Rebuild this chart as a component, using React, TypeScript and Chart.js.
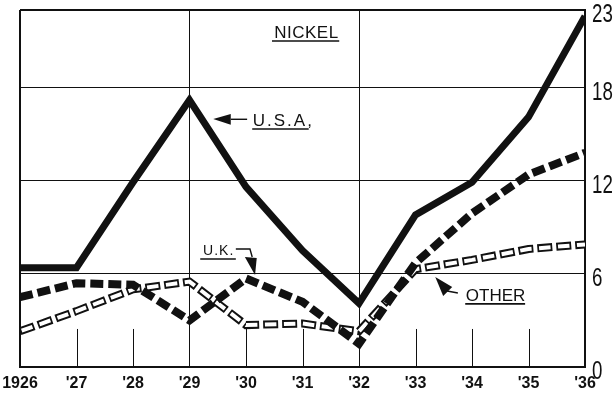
import React, { useEffect, useRef } from "react";
import { Chart, registerables } from "chart.js";

Chart.register(...registerables);

// ---- Data ----
const years = [1926, 1927, 1928, 1929, 1930, 1931, 1932, 1933, 1934, 1935, 1936];
const usaValues = [6.4, 6.4, 11.9, 17.2, 11.6, 7.5, 4.1, 9.8, 11.9, 16.1, 22.6];
const ukValues = [4.5, 5.4, 5.3, 3.0, 5.7, 4.2, 1.5, 6.7, 9.9, 12.4, 13.8];
const otherValues = [2.3, 3.6, 5.0, 5.5, 2.7, 2.8, 2.3, 6.3, 6.9, 7.6, 7.9];
const yTickValues = [0, 6, 12, 18, 23];
const xGridYears = [1926, 1929, 1932, 1936];
const yGridValues = [6, 12, 18, 23];
const yearTickTop = 2.45; // short inner year ticks rise to this value

const yearLabel = (y: number) => (y === 1926 ? "1926" : "'" + String(y).slice(2));

const INK = "#111111";
const LABEL_FONT = "'Liberation Sans', 'DejaVu Sans', Arial, sans-serif";

// Annotation labels in data coordinates
const textLabels = [
  { text: "NICKEL", x: 1930.5, y: 21.22, size: 17, spacing: "0.5px", ux0: 1930.46, ux1: 1931.65, uy: 21.0 },
  { text: "U.S.A,", x: 1930.12, y: 15.53, size: 17, spacing: "2px", ux0: 1930.11, ux1: 1931.11, uy: 15.33 },
  { text: "U.K.", x: 1929.24, y: 7.22, size: 14, spacing: "1px", ux0: 1929.19, ux1: 1929.82, uy: 6.96 },
  { text: "OTHER", x: 1933.89, y: 4.27, size: 17, spacing: "0px", ux0: 1933.88, ux1: 1934.94, uy: 4.07 },
];

const arrows = [
  {
    leader: [[1930.02, 15.96], [1929.73, 15.96]],
    head: [[1929.42, 15.98], [1929.73, 16.3], [1929.73, 15.6]],
  },
  {
    leader: [[1929.82, 7.6], [1930.07, 7.6], [1930.11, 7.09]],
    head: [[1929.98, 7.09], [1930.19, 7.02], [1930.16, 5.93]],
  },
  {
    leader: [[1933.75, 4.77], [1933.56, 4.9]],
    head: [[1933.35, 5.8], [1933.65, 5.15], [1933.49, 4.57]],
  },
];

const toPoints = (vals: number[]) => years.map((x, i) => ({ x, y: vals[i] }));

const yearTicksPlugin = {
  id: "yearTicks",
  beforeDatasetsDraw(chart: any) {
    const { ctx } = chart;
    const xs = chart.scales.x;
    const ys = chart.scales.y;
    ctx.save();
    ctx.strokeStyle = INK;
    ctx.lineWidth = 1;
    years.forEach((yr) => {
      if (xGridYears.includes(yr)) return;
      const px = Math.round(xs.getPixelForValue(yr)) + 0.5;
      ctx.beginPath();
      ctx.moveTo(px, ys.getPixelForValue(0));
      ctx.lineTo(px, ys.getPixelForValue(yearTickTop));
      ctx.stroke();
    });
    ctx.restore();
  },
};

// Condensed right-hand value labels, drawn from the y scale's own ticks
const condensedYLabels = {
  id: "condensedYLabels",
  afterDraw(chart: any) {
    const { ctx } = chart;
    const ys = chart.scales.y;
    ctx.save();
    ctx.fillStyle = INK;
    ctx.font = `26px ${LABEL_FONT}`;
    ctx.textAlign = "left";
    ctx.textBaseline = "middle";
    ys.ticks.forEach((t: any) => {
      const py = ys.getPixelForValue(t.value) + 5;
      ctx.save();
      ctx.translate(ys.left + 7, py);
      ctx.scale(0.72, 1);
      ctx.fillText(String(t.value), 0, 0);
      ctx.restore();
    });
    ctx.restore();
  },
};

const annotationPlugin = {
  id: "annotations",
  afterDatasetsDraw(chart: any) {
    const { ctx } = chart;
    const xs = chart.scales.x;
    const ys = chart.scales.y;
    const X = (v: number) => xs.getPixelForValue(v);
    const Y = (v: number) => ys.getPixelForValue(v);
    ctx.save();
    ctx.fillStyle = INK;
    ctx.strokeStyle = INK;
    ctx.textAlign = "left";
    ctx.textBaseline = "alphabetic";
    textLabels.forEach((l) => {
      ctx.font = `${l.size}px ${LABEL_FONT}`;
      (ctx as any).letterSpacing = l.spacing;
      ctx.fillText(l.text, X(l.x), Y(l.y));
      (ctx as any).letterSpacing = "0px";
      ctx.lineWidth = 1.6;
      ctx.beginPath();
      ctx.moveTo(X(l.ux0), Y(l.uy));
      ctx.lineTo(X(l.ux1), Y(l.uy));
      ctx.stroke();
    });
    arrows.forEach((a) => {
      ctx.lineWidth = 1.4;
      ctx.beginPath();
      a.leader.forEach(([x, y], i) => (i === 0 ? ctx.moveTo(X(x), Y(y)) : ctx.lineTo(X(x), Y(y))));
      ctx.stroke();
      ctx.beginPath();
      a.head.forEach(([x, y], i) => (i === 0 ? ctx.moveTo(X(x), Y(y)) : ctx.lineTo(X(x), Y(y))));
      ctx.closePath();
      ctx.fill();
    });
    ctx.restore();
  },
};

export default function App() {
  const canvasRef = useRef<HTMLCanvasElement | null>(null);

  useEffect(() => {
    if (!canvasRef.current) return;
    const chart = new Chart(canvasRef.current, {
      type: "line",
      data: {
        datasets: [
          {
            label: "U.S.A.",
            data: toPoints(usaValues),
            borderColor: INK,
            borderWidth: 7,
            pointRadius: 0,
            tension: 0,
            order: 0,
          },
          {
            label: "U.K.",
            data: toPoints(ukValues),
            borderColor: INK,
            borderWidth: 8,
            borderDash: [13, 5],
            pointRadius: 0,
            tension: 0,
            order: 1,
          },
          {
            label: "Other (fill)",
            data: toPoints(otherValues),
            borderColor: "#ffffff",
            borderWidth: 4,
            borderDash: [11.5, 7.5],
            borderDashOffset: -1.75,
            pointRadius: 0,
            tension: 0,
            order: 2,
          },
          {
            label: "Other",
            data: toPoints(otherValues),
            borderColor: INK,
            borderWidth: 8,
            borderDash: [15, 4],
            pointRadius: 0,
            tension: 0,
            order: 3,
          },
        ],
      },
      options: {
        animation: false,
        responsive: false,
        maintainAspectRatio: false,
        layout: { padding: { left: 20, top: 10, right: 0, bottom: 0 } },
        plugins: {
          legend: { display: false },
          tooltip: { enabled: false },
        },
        scales: {
          x: {
            type: "linear",
            min: 1926,
            max: 1936,
            afterFit: (s: any) => {
              s.height = 27;
              s.paddingLeft = 0;
              s.paddingRight = 0;
            },
            ticks: {
              stepSize: 1,
              autoSkip: false,
              maxRotation: 0,
              padding: 7,
              color: INK,
              font: { family: LABEL_FONT, size: 16, weight: "bold" },
              callback: (v: any) => yearLabel(Number(v)),
            },
            grid: {
              drawTicks: false,
              color: (c: any) => (xGridYears.includes(c.tick?.value) ? INK : "rgba(0,0,0,0)"),
              lineWidth: (c: any) => (c.tick?.value === 1926 || c.tick?.value === 1936 ? 2 : 1),
            },
            border: { display: true, color: INK, width: 2 },
          },
          y: {
            type: "linear",
            position: "right",
            min: 0,
            max: 23,
            afterFit: (s: any) => {
              s.width = 30;
              s.paddingTop = 0;
              s.paddingBottom = 0;
            },
            afterBuildTicks: (s: any) => {
              s.ticks = yTickValues.map((value) => ({ value }));
            },
            ticks: {
              display: false,
            },
            grid: {
              drawTicks: false,
              color: (c: any) => (yGridValues.includes(c.tick?.value) ? INK : "rgba(0,0,0,0)"),
              lineWidth: (c: any) => (c.tick?.value === 23 ? 2 : 1),
            },
            border: { display: true, color: INK, width: 2 },
          },
        },
      },
      plugins: [yearTicksPlugin, annotationPlugin, condensedYLabels],
    });
    return () => chart.destroy();
  }, []);

  return (
    <div style={{ position: "fixed", left: 0, top: 0, width: 615, height: 394, background: "#ffffff" }}>
      <canvas ref={canvasRef} width={615} height={394} style={{ display: "block" }} />
    </div>
  );
}
